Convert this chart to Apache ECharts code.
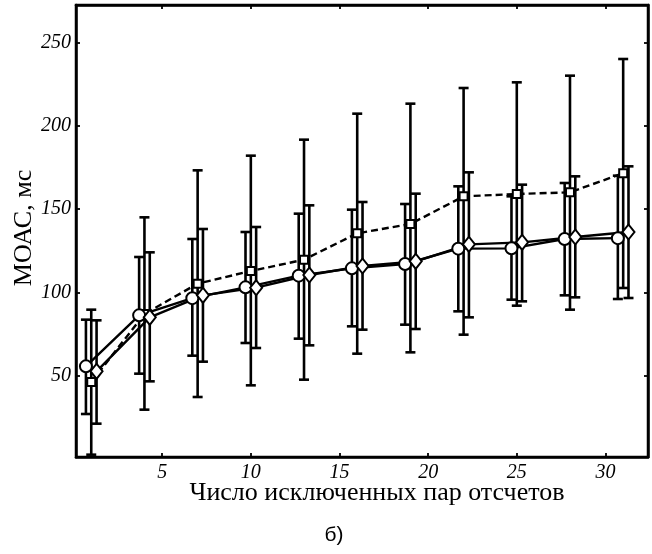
<!DOCTYPE html>
<html>
<head>
<meta charset="utf-8">
<script src="https://cdn.jsdelivr.net/npm/echarts@6/dist/echarts.min.js"></script>
<style>
  html, body { margin: 0; padding: 0; background: #fff; }
  #chart { width: 652px; height: 554px; }
</style>
</head>
<body>
<div id="chart"></div>
<script>
// Number of excluded sample pairs (group centres)
const groups = [1, 4, 7, 10, 13, 16, 19, 22, 25, 28, 31];
const xTicks = [5, 10, 15, 20, 25, 30];
const yTicks = [50, 100, 150, 200, 250];

// Series A (circles, solid line): mean, lower and upper bounds, ms
const circleMean = [55.6, 86.2, 96.5, 103.0, 110.0, 114.4, 117.0, 126.2, 126.4, 132.0, 132.5];
const circleLow  = [27.0, 51.2, 62.0, 69.6, 72.2, 79.6, 80.6, 88.6, 95.6, 98.2, 96.0];
const circleHigh = [83.6, 121.2, 132.0, 136.2, 147.2, 149.6, 153.0, 163.6, 157.6, 165.6, 170.0];

// Series B (squares, dashed line)
const squareMean = [46.2, 87.0, 105.2, 112.8, 119.6, 135.4, 141.0, 157.6, 159.0, 160.0, 171.5];
const squareLow  = [2.6, 29.6, 37.2, 44.2, 47.6, 63.2, 64.0, 74.6, 92.0, 89.6, 102.6];
const squareHigh = [89.6, 145.0, 173.2, 182.0, 191.6, 207.2, 213.2, 222.6, 226.0, 230.0, 240.0];

// Series C (diamonds, solid line)
const diamondMean = [52.6, 85.0, 98.2, 102.8, 110.4, 115.8, 118.6, 128.8, 130.0, 133.2, 136.2];
const diamondLow  = [21.2, 46.6, 58.4, 66.6, 68.2, 77.6, 78.0, 85.0, 94.6, 97.0, 96.6];
const diamondHigh = [83.2, 124.0, 138.0, 139.2, 152.2, 154.2, 159.2, 172.0, 164.6, 169.6, 175.6];

// horizontal offset of each series inside a group, in axis units
const SHIFT = 0.3;

const chart = echarts.init(document.getElementById('chart'), null, { renderer: 'canvas' });

function points(mean, dx) {
  return groups.map((g, i) => [g + dx, mean[i]]);
}
function bars(low, high, dx) {
  return groups.map((g, i) => [g + dx, low[i], high[i]]);
}

function errorBarSeries(data) {
  return {
    type: 'custom',
    z: 1,
    silent: true,
    data: data,
    encode: { x: 0, y: [1, 2] },
    renderItem: function (params, api) {
      const x = api.value(0);
      const lo = api.coord([x, api.value(1)]);
      const hi = api.coord([x, api.value(2)]);
      const cap = 5;
      const style = { stroke: '#000', lineWidth: 2.6 };
      return {
        type: 'group',
        children: [
          { type: 'line', shape: { x1: lo[0], y1: lo[1], x2: hi[0], y2: hi[1] }, style: style },
          { type: 'line', shape: { x1: lo[0] - cap, y1: lo[1], x2: lo[0] + cap, y2: lo[1] }, style: style },
          { type: 'line', shape: { x1: hi[0] - cap, y1: hi[1], x2: hi[0] + cap, y2: hi[1] }, style: style }
        ]
      };
    }
  };
}

function lineSeries(data, symbol, size, dashed) {
  return {
    type: 'line',
    z: 3,
    data: data,
    symbol: symbol,
    symbolSize: size,
    showAllSymbol: true,
    silent: true,
    itemStyle: { color: '#fff', borderColor: '#000', borderWidth: 2 },
    lineStyle: { color: '#000', width: 2.4, type: dashed ? [7, 4] : 'solid' }
  };
}

const tickFont = { fontFamily: 'Liberation Serif', fontStyle: 'italic', fontSize: 20, color: '#000' };

const option = {
  animation: false,
  backgroundColor: '#fff',
  grid: { left: 76, right: 4, top: 5, bottom: 97, show: true, borderColor: '#000', borderWidth: 2.5 },
  xAxis: [
    {
      type: 'value', min: 0.14, max: 32.4, position: 'bottom',
      axisLine: { show: true, lineStyle: { color: '#000', width: 2.5 } },
      axisTick: { show: true, inside: true, length: 4, customValues: xTicks, lineStyle: { color: '#000', width: 1.8 } },
      axisLabel: Object.assign({ margin: 6, customValues: xTicks }, tickFont),
      splitLine: { show: false }
    },
    {
      type: 'value', min: 0.14, max: 32.4, position: 'top',
      axisLine: { show: true, lineStyle: { color: '#000', width: 2.5 } },
      axisTick: { show: true, inside: true, length: 4, customValues: xTicks, lineStyle: { color: '#000', width: 1.8 } },
      axisLabel: { show: false },
      splitLine: { show: false }
    }
  ],
  yAxis: [
    {
      type: 'value', min: 1.2, max: 272.4, position: 'left',
      axisLine: { show: true, lineStyle: { color: '#000', width: 2.5 } },
      axisTick: { show: true, inside: true, length: 4, customValues: yTicks, lineStyle: { color: '#000', width: 1.8 } },
      axisLabel: Object.assign({ margin: 5, customValues: yTicks }, tickFont),
      splitLine: { show: false }
    },
    {
      type: 'value', min: 1.2, max: 272.4, position: 'right',
      axisLine: { show: true, lineStyle: { color: '#000', width: 2.5 } },
      axisTick: { show: true, inside: true, length: 4, customValues: yTicks, lineStyle: { color: '#000', width: 1.8 } },
      axisLabel: { show: false },
      splitLine: { show: false }
    }
  ],
  series: [
    errorBarSeries(bars(circleLow, circleHigh, -SHIFT)),
    errorBarSeries(bars(squareLow, squareHigh, 0)),
    errorBarSeries(bars(diamondLow, diamondHigh, SHIFT)),
    lineSeries(points(squareMean, 0), 'rect', 8, true),
    lineSeries(points(circleMean, -SHIFT), 'circle', 12, false),
    lineSeries(points(diamondMean, SHIFT), 'diamond', [12, 15], false)
  ],
  graphic: [
    {
      type: 'text', x: 377, y: 480,
      style: { text: 'Число исключенных пар отсчетов', fontFamily: 'Liberation Serif', fontSize: 26, fill: '#000', align: 'center', verticalAlign: 'top' }
    },
    {
      type: 'text', x: 24, y: 228, rotation: Math.PI / 2,
      style: { text: 'МОАС, мс', fontFamily: 'Liberation Serif', fontSize: 26, fill: '#000', align: 'center', verticalAlign: 'middle' }
    },
    {
      type: 'text', x: 334, y: 535,
      style: { text: 'б)', fontFamily: 'Liberation Sans', fontSize: 21, fill: '#000', align: 'center', verticalAlign: 'middle' }
    }
  ]
};

chart.setOption(option);
</script>
</body>
</html>
